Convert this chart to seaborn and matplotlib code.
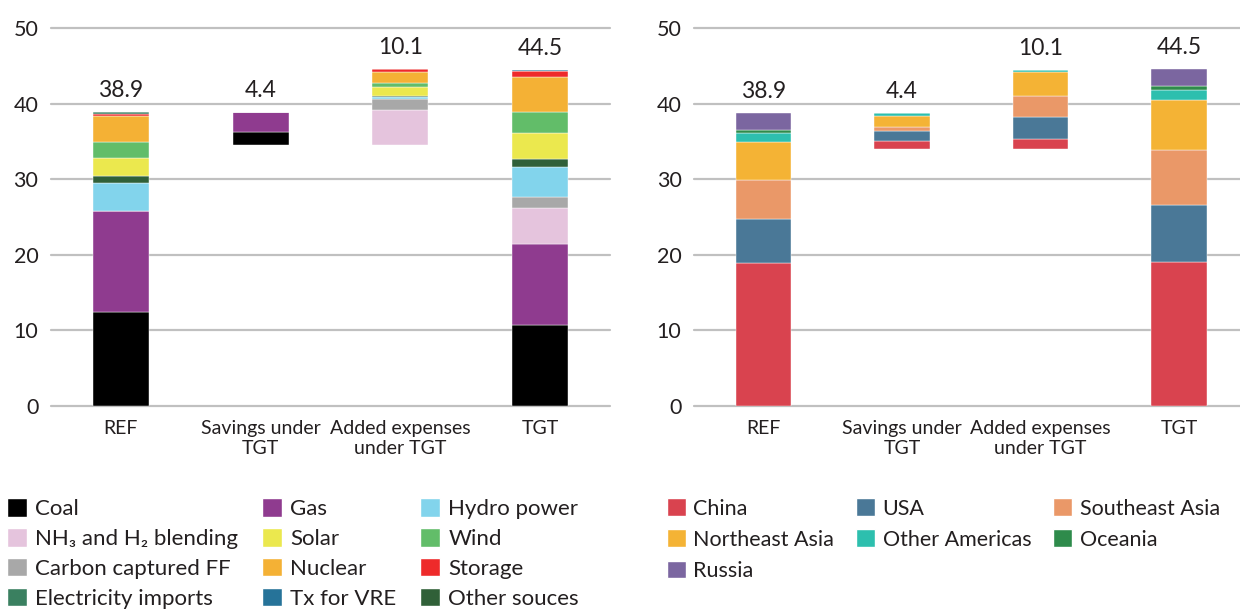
import matplotlib
matplotlib.use("Agg")
import matplotlib.pyplot as plt
import numpy as np
import pandas as pd
import seaborn as sns
from matplotlib.patches import Patch

categories = ["REF", "Savings under\nTGT", "Added expenses\nunder TGT", "TGT"]
bar_labels = ["38.9", "4.4", "10.1", "44.5"]

# left panel: by technology (REF, savings, added, TGT)
coal = [12.5, 1.8, 0.0, 10.7]
gas = [13.3, 2.6, 0.0, 10.8]
nh3_h2 = [0.0, 0.0, 4.7, 4.7]
ccs_ff = [0.0, 0.0, 1.5, 1.5]
hydro = [3.7, 0.0, 0.2, 3.9]
other_src = [1.0, 0.0, 0.1, 1.1]
solar = [2.3, 0.0, 1.2, 3.5]
wind = [2.2, 0.0, 0.6, 2.7]
nuclear = [3.4, 0.0, 1.4, 4.7]
storage = [0.25, 0.0, 0.4, 0.7]
imports = [0.25, 0.0, 0.0, 0.0]
tx_vre = [0.0, 0.0, 0.0, 0.2]

# right panel: by region
china = [18.9, 1.1, 1.3, 19.1]
usa = [5.9, 1.3, 3.0, 7.5]
se_asia = [5.1, 0.6, 2.8, 7.3]
ne_asia = [5.0, 1.4, 3.1, 6.6]
other_americas = [1.2, 0.4, 0.3, 1.3]
oceania = [0.4, 0.0, 0.0, 0.5]
russia = [2.3, 0.0, 0.0, 2.3]

tech_layers = [
    ("Coal", coal, "#000000"),
    ("Gas", gas, "#8f3b8f"),
    ("NH\u2083 and H\u2082 blending", nh3_h2, "#e5c4dd"),
    ("Carbon captured FF", ccs_ff, "#a8a8a8"),
    ("Hydro power", hydro, "#82d4ec"),
    ("Other souces", other_src, "#306038"),
    ("Solar", solar, "#ebe84e"),
    ("Wind", wind, "#62bd69"),
    ("Nuclear", nuclear, "#f4b135"),
    ("Storage", storage, "#ee2a2a"),
    ("Electricity imports", imports, "#3a8060"),
    ("Tx for VRE", tx_vre, "#267399"),
]
tech_legend = ["Coal", "NH\u2083 and H\u2082 blending", "Carbon captured FF", "Electricity imports",
               "Gas", "Solar", "Nuclear", "Tx for VRE",
               "Hydro power", "Wind", "Storage", "Other souces"]

region_layers = [
    ("China", china, "#d9434f"),
    ("USA", usa, "#4a7897"),
    ("Southeast Asia", se_asia, "#ea9868"),
    ("Northeast Asia", ne_asia, "#f4b335"),
    ("Other Americas", other_americas, "#2dbfae"),
    ("Oceania", oceania, "#2e8b4b"),
    ("Russia", russia, "#7b66a0"),
]
region_legend = ["China", "Northeast Asia", "Russia", "USA", "Other Americas",
                 "Southeast Asia", "Oceania"]

sns.set_theme(style="white")
plt.rcParams['font.family'] = ['Lato', 'DejaVu Sans']
text_color = "#231f20"


def draw_stack(ax, layers):
    vals = np.array([l[1] for l in layers], dtype=float)
    totals = vals.sum(axis=0)
    base = np.zeros(len(categories))
    # waterfall: savings hang from REF total, added expenses start at same level
    base[1] = totals[0] - totals[1]
    base[2] = base[1]
    bottom = base.copy()
    for name, row, color in layers:
        df = pd.DataFrame({"category": categories, "value": row})
        sns.barplot(data=df, x="category", y="value", order=categories,
                    bottom=bottom.copy(), color=color, saturation=1,
                    width=0.4, edgecolor="white", linewidth=0.3,
                    errorbar=None, ax=ax, zorder=3)
        bottom = bottom + np.array(row)
    for i, lab in enumerate(bar_labels):
        ax.annotate(lab, (i, bottom[i]), xytext=(0, 8), textcoords="offset points",
                    ha="center", va="bottom", fontsize=16.5, color=text_color)

    ax.set_ylim(0, 50)
    ax.set_yticks(range(0, 51, 10))
    ax.set_xlabel("")
    ax.set_ylabel("")
    ax.yaxis.grid(True, color="#c0c0c0", linewidth=1.6)
    ax.set_axisbelow(True)
    for line in ax.get_ygridlines():
        line.set_clip_on(False)
    sns.despine(ax=ax, left=True, bottom=True)
    ax.tick_params(axis="y", length=0, pad=9, labelsize=15.5, labelcolor=text_color)
    ax.tick_params(axis="x", length=0, pad=10, labelsize=14, labelcolor=text_color)


fig = plt.figure(figsize=(12.4, 6.1), dpi=100)
ax1 = fig.add_axes([0.0411, 0.3344, 0.4508, 0.6192])
ax2 = fig.add_axes([0.5597, 0.3344, 0.4403, 0.6192])

draw_stack(ax1, tech_layers)
ax1.set_xlim(-0.5, 3.5)
draw_stack(ax2, region_layers)
ax2.set_xlim(-0.5, 3.44)

tech_colors = {n: c for n, _, c in tech_layers}
region_colors = {n: c for n, _, c in region_layers}

leg_kw = dict(ncol=3, loc="upper left", frameon=False,
              handlelength=0.9, handleheight=0.9, handletextpad=0.35,
              borderaxespad=0, borderpad=0, labelcolor=text_color)
fig.legend(handles=[Patch(facecolor=tech_colors[n], label=n) for n in tech_legend],
           bbox_to_anchor=(0.0055, 0.183), fontsize=16, columnspacing=1.1,
           labelspacing=0.4, **leg_kw)
fig.legend(handles=[Patch(facecolor=region_colors[n], label=n) for n in region_legend],
           bbox_to_anchor=(0.5375, 0.183), fontsize=15.5, columnspacing=1.0,
           labelspacing=0.5, **leg_kw)

fig.savefig("out.png", dpi=100)
